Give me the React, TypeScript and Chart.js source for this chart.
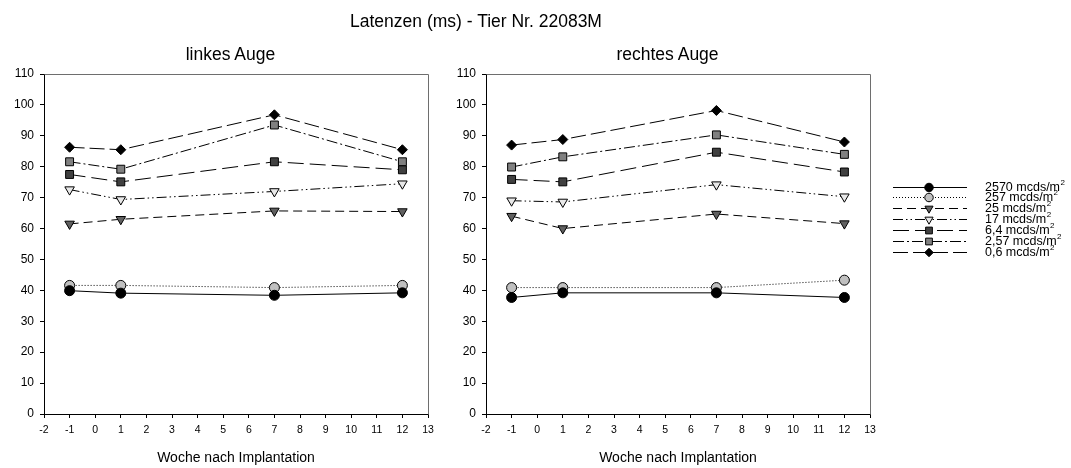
import React, { useEffect, useRef } from 'react';
import { Chart, registerables } from 'chart.js';
import { drawPoint } from 'chart.js/helpers';

Chart.register(...registerables);
Chart.defaults.font.family = "'Liberation Sans', Arial, sans-serif";
Chart.defaults.color = '#000';

// ---------- data ----------
const mainTitle = 'Latenzen (ms) - Tier Nr. 22083M';
const leftTitle = 'linkes Auge';
const rightTitle = 'rechtes Auge';
const xAxisTitle = 'Woche nach Implantation';

const weeks = [-1, 1, 7, 12];
const seriesLabels = ['2570 mcds/m', '257 mcds/m', '25 mcds/m', '17 mcds/m', '6,4 mcds/m', '2,57 mcds/m', '0,6 mcds/m'];

const left2570 = [39.9, 39.1, 38.4, 39.2];
const left257 = [41.6, 41.6, 40.9, 41.6];
const left25 = [61.5, 63.0, 65.7, 65.5];
const left17 = [72.6, 69.4, 72.0, 74.5];
const left64 = [77.5, 75.1, 81.6, 79.0];
const left257b = [81.6, 79.2, 93.5, 81.6];
const left06 = [86.3, 85.5, 96.8, 85.5];

const right2570 = [37.7, 39.2, 39.2, 37.7];
const right257 = [40.9, 40.9, 40.9, 43.3];
const right25 = [64.0, 60.0, 64.7, 61.6];
const right17 = [69.0, 68.6, 74.2, 70.3];
const right64 = [75.9, 75.1, 84.7, 78.3];
const right257b = [79.9, 83.2, 90.3, 84.0];
const right06 = [87.0, 88.8, 98.2, 88.0];

const leftSeries = [left2570, left257, left25, left17, left64, left257b, left06];
const rightSeries = [right2570, right257, right25, right17, right64, right257b, right06];

const xMin = -2;
const xMax = 13;
const yMin = 0;
const yMax = 110;

// ---------- styles ----------
const styles = [
  { dash: [], pointStyle: 'circle', radius: 5, rotation: 0, fill: '#000000' },
  { dash: [1, 2], pointStyle: 'circle', radius: 5, rotation: 0, fill: '#c0c0c0' },
  { dash: [9, 5], pointStyle: 'triangle', radius: 5.5, rotation: 180, fill: '#606060' },
  { dash: [10, 3, 1.5, 3, 1.5, 3], pointStyle: 'triangle', radius: 5.5, rotation: 180, fill: '#e8e8e8' },
  { dash: [16, 6], pointStyle: 'rect', radius: 5.6, rotation: 0, fill: '#404040' },
  { dash: [11, 3, 2, 3], pointStyle: 'rect', radius: 5.6, rotation: 0, fill: '#808080' },
  { dash: [15, 5], pointStyle: 'rectRot', radius: 5, rotation: 0, fill: '#000000' },
];

const buildDatasets = (series: number[][]) =>
  series.map((vals, i) => ({
    label: seriesLabels[i],
    data: weeks.map((w, j) => ({ x: w, y: vals[j] })),
    borderColor: '#000',
    borderWidth: 1,
    borderDash: styles[i].dash,
    pointStyle: styles[i].pointStyle,
    pointRadius: styles[i].radius,
    pointRotation: styles[i].rotation,
    pointBackgroundColor: styles[i].fill,
    pointBorderColor: '#000',
    pointBorderWidth: 1,
    tension: 0,
    fill: false,
  }));

const framePlugin = {
  id: 'frame',
  afterDraw(chart: any) {
    const { ctx, chartArea } = chart;
    const l = Math.round(chartArea.left) + 0.5;
    const t = Math.round(chartArea.top) + 0.5;
    const r = Math.round(chartArea.right) + 0.5;
    const b = Math.round(chartArea.bottom) + 0.5;
    ctx.save();
    ctx.strokeStyle = '#6e6e6e';
    ctx.lineWidth = 1;
    ctx.setLineDash([]);
    ctx.beginPath();
    ctx.moveTo(l, t);
    ctx.lineTo(r, t);
    ctx.lineTo(r, b);
    ctx.stroke();
    ctx.restore();
  },
};

const legendPlugin = {
  id: 'sideLegend',
  afterDraw(chart: any) {
    const ctx = chart.ctx;
    const x1 = 453;
    const x2 = 527;
    const xm = 489;
    const xt = 545;
    const y0 = 186.5;
    const dy = 10.9;
    ctx.save();
    chart.data.datasets.forEach((ds: any, i: number) => {
      const y = Math.round(y0 + i * dy) + 0.5;
      ctx.strokeStyle = '#000';
      ctx.lineWidth = 1;
      ctx.setLineDash(ds.borderDash || []);
      ctx.beginPath();
      ctx.moveTo(x1, y);
      ctx.lineTo(x2, y);
      ctx.stroke();
      ctx.setLineDash([]);
      ctx.fillStyle = ds.pointBackgroundColor;
      ctx.strokeStyle = '#000';
      drawPoint(ctx, { pointStyle: ds.pointStyle, radius: ds.pointRadius * 0.85, rotation: ds.pointRotation, borderWidth: 1 }, xm, y);
      ctx.fillStyle = '#000';
      ctx.font = "12.5px 'Liberation Sans', Arial, sans-serif";
      ctx.textBaseline = 'middle';
      ctx.textAlign = 'left';
      ctx.fillText(ds.label, xt, y);
      const w = ctx.measureText(ds.label).width;
      ctx.font = "8px 'Liberation Sans', Arial, sans-serif";
      ctx.fillText('2', xt + w + 0.5, y - 4.5);
    });
    ctx.restore();
  },
};

const makeOptions = (yWidth: number, padRight: number): any => ({
  responsive: false,
  maintainAspectRatio: false,
  animation: false,
  devicePixelRatio: 1,
  layout: { padding: { left: 0, right: padRight, top: 74, bottom: 0 } },
  plugins: { legend: { display: false }, tooltip: { enabled: false }, title: { display: false } },
  scales: {
    x: {
      type: 'linear',
      min: xMin,
      max: xMax,
      ticks: { stepSize: 1, font: { size: 10.5 }, color: '#000', padding: 6, autoSkip: false, maxRotation: 0 },
      grid: { drawOnChartArea: false, drawTicks: true, tickLength: 4, color: '#000' },
      border: { display: true, color: '#000', width: 1 },
      title: { display: true, text: xAxisTitle, font: { size: 14 }, color: '#000', padding: { top: 0, bottom: 1 } },
      afterFit: (s: any) => { s.height = 54; },
    },
    y: {
      type: 'linear',
      min: yMin,
      max: yMax,
      ticks: { stepSize: 10, font: { size: 12 }, color: '#000', padding: 6 },
      grid: { drawOnChartArea: false, drawTicks: true, tickLength: 4, color: '#000' },
      border: { display: true, color: '#000', width: 1 },
      afterFit: (s: any) => { s.width = yWidth; },
    },
  },
});

export default function App() {
  const leftRef = useRef<HTMLCanvasElement>(null);
  const rightRef = useRef<HTMLCanvasElement>(null);

  useEffect(() => {
    document.body.style.margin = '0';
    const c1 = new Chart(leftRef.current as HTMLCanvasElement, {
      type: 'line',
      data: { datasets: buildDatasets(leftSeries) as any },
      options: makeOptions(44, 12),
      plugins: [framePlugin],
    });
    const c2 = new Chart(rightRef.current as HTMLCanvasElement, {
      type: 'line',
      data: { datasets: buildDatasets(rightSeries) as any },
      options: makeOptions(46, 201),
      plugins: [framePlugin, legendPlugin],
    });
    return () => {
      c1.destroy();
      c2.destroy();
    };
  }, []);

  const font = "'Liberation Sans', Arial, sans-serif";
  return (
    <div style={{ position: 'relative', width: 1071, height: 468, background: '#fff', fontFamily: font, color: '#000' }}>
      <canvas ref={leftRef} width={440} height={468} style={{ position: 'absolute', left: 0, top: 0, width: 440, height: 468 }} />
      <canvas ref={rightRef} width={631} height={468} style={{ position: 'absolute', left: 440, top: 0, width: 631, height: 468 }} />
      <div style={{ position: 'absolute', left: 0, width: 952, top: 13, textAlign: 'center', fontSize: 17.5, lineHeight: '17.5px', whiteSpace: 'nowrap' }}>{mainTitle}</div>
      <div style={{ position: 'absolute', left: 130, width: 201, top: 46, textAlign: 'center', fontSize: 17.5, lineHeight: '17.5px', whiteSpace: 'nowrap' }}>{leftTitle}</div>
      <div style={{ position: 'absolute', left: 567, width: 201, top: 46, textAlign: 'center', fontSize: 17.5, lineHeight: '17.5px', whiteSpace: 'nowrap' }}>{rightTitle}</div>
    </div>
  );
}
